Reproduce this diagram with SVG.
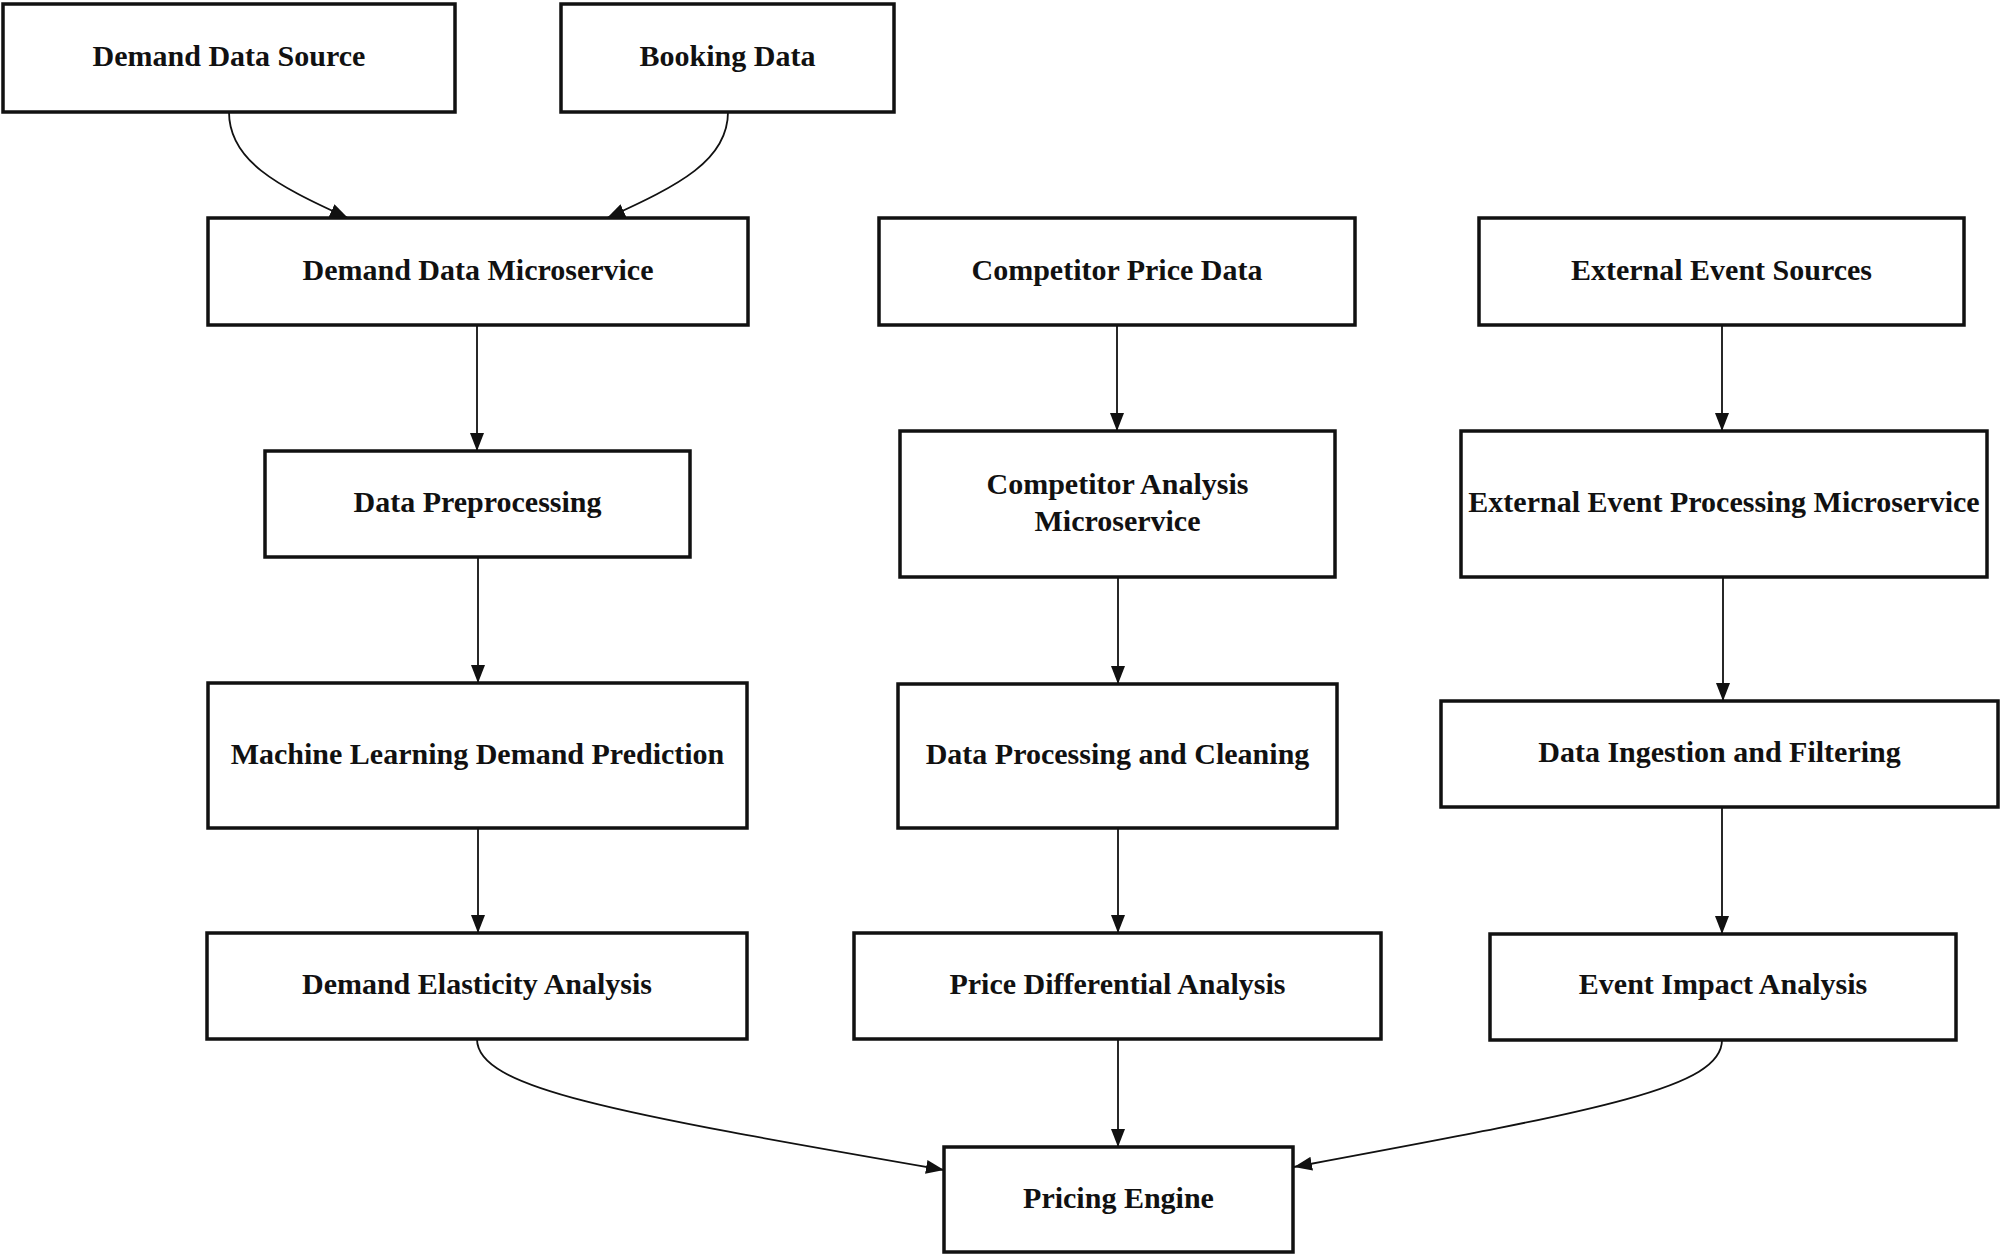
<svg xmlns="http://www.w3.org/2000/svg" width="2001" height="1257" viewBox="0 0 2001 1257">
<style>
.box{fill:#fff;stroke:#111;stroke-width:3.5}
.lbl{font-family:"Liberation Serif","Times New Roman",serif;font-weight:bold;font-size:30px;fill:#111;text-anchor:middle}
.edge{fill:none;stroke:#111;stroke-width:1.8;marker-end:url(#arr)}
</style>
<defs>
<marker id="arr" viewBox="0 0 18 14" refX="18" refY="7" markerWidth="18" markerHeight="14" markerUnits="userSpaceOnUse" orient="auto">
<path d="M0,0 L18,7 L0,14 Z" fill="#111"/>
</marker>
</defs>
<rect width="2001" height="1257" fill="#fff"/>
<g id="connectors">
<path class="edge" d="M229,112 C229,160 275,185 348,218"/>
<path class="edge" d="M728,112 C728,160 680,185 607,218"/>
<path class="edge" d="M477,325 L477,451"/>
<path class="edge" d="M478,557 L478,683"/>
<path class="edge" d="M478,828 L478,933"/>
<path class="edge" d="M1117,325 L1117,431"/>
<path class="edge" d="M1118,577 L1118,684"/>
<path class="edge" d="M1118,828 L1118,933"/>
<path class="edge" d="M1118,1039 L1118,1147"/>
<path class="edge" d="M1722,325 L1722,431"/>
<path class="edge" d="M1723,577 L1723,701"/>
<path class="edge" d="M1722,807 L1722,934"/>
<path class="edge" d="M477,1039 C477,1088 610,1112 944,1170"/>
<path class="edge" d="M1722,1040 C1722,1088 1600,1110 1294,1167"/>
</g>
<g id="demand-data-source"><rect class="box" x="3" y="4" width="452" height="108"/><text class="lbl" x="229" y="66">Demand Data Source</text></g>
<g id="booking-data"><rect class="box" x="561" y="4" width="333" height="108"/><text class="lbl" x="727.5" y="66">Booking Data</text></g>
<g id="demand-data-microservice"><rect class="box" x="208" y="218" width="540" height="107"/><text class="lbl" x="478" y="279.5">Demand Data Microservice</text></g>
<g id="competitor-price-data"><rect class="box" x="879" y="218" width="476" height="107"/><text class="lbl" x="1117" y="279.5">Competitor Price Data</text></g>
<g id="external-event-sources"><rect class="box" x="1479" y="218" width="485" height="107"/><text class="lbl" x="1721.5" y="279.5">External Event Sources</text></g>
<g id="data-preprocessing"><rect class="box" x="265" y="451" width="425" height="106"/><text class="lbl" x="477.5" y="512">Data Preprocessing</text></g>
<g id="competitor-analysis-microservice"><rect class="box" x="900" y="431" width="435" height="146"/><text class="lbl" x="1117.5" y="494">Competitor Analysis</text><text class="lbl" x="1117.5" y="531">Microservice</text></g>
<g id="external-event-processing-microservice"><rect class="box" x="1461" y="431" width="526" height="146"/><text class="lbl" x="1724" y="512">External Event Processing Microservice</text></g>
<g id="ml-demand-prediction"><rect class="box" x="208" y="683" width="539" height="145"/><text class="lbl" x="477.5" y="763.5">Machine Learning Demand Prediction</text></g>
<g id="data-processing-cleaning"><rect class="box" x="898" y="684" width="439" height="144"/><text class="lbl" x="1117.5" y="763.5">Data Processing and Cleaning</text></g>
<g id="data-ingestion-filtering"><rect class="box" x="1441" y="701" width="557" height="106"/><text class="lbl" x="1719.5" y="762">Data Ingestion and Filtering</text></g>
<g id="demand-elasticity-analysis"><rect class="box" x="207" y="933" width="540" height="106"/><text class="lbl" x="477" y="994">Demand Elasticity Analysis</text></g>
<g id="price-differential-analysis"><rect class="box" x="854" y="933" width="527" height="106"/><text class="lbl" x="1117.5" y="994">Price Differential Analysis</text></g>
<g id="event-impact-analysis"><rect class="box" x="1490" y="934" width="466" height="106"/><text class="lbl" x="1723" y="994">Event Impact Analysis</text></g>
<g id="pricing-engine"><rect class="box" x="944" y="1147" width="349" height="105"/><text class="lbl" x="1118.5" y="1207.5">Pricing Engine</text></g>
</svg>
